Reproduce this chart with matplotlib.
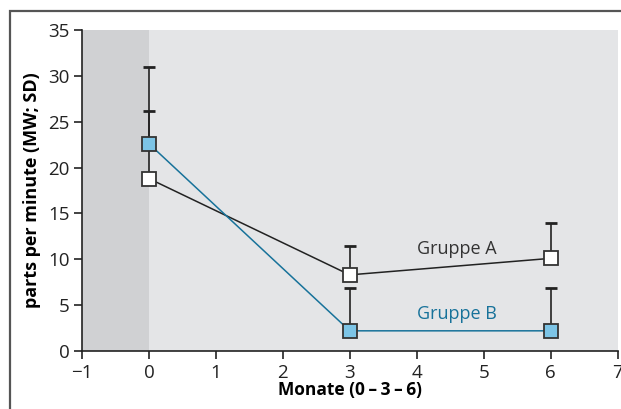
import matplotlib
matplotlib.use('Agg')
import matplotlib.pyplot as plt
from matplotlib.patches import Rectangle

plt.rcParams['font.family'] = ['Open Sans', 'DejaVu Sans']

# months
months = [0, 3, 6]

# Gruppe A: mean and upper SD end
mean_a = [18.8, 8.3, 10.1]
sd_a = [7.4, 3.2, 3.9]

# Gruppe B
mean_b = [22.6, 2.2, 2.2]
sd_b = [8.4, 4.7, 4.7]

xticks = [-1, 0, 1, 2, 3, 4, 5, 6, 7]
yticks = [0, 5, 10, 15, 20, 25, 30, 35]

fig = plt.figure(figsize=(6.21, 4.09), dpi=100)
ax = fig.add_axes([82/621, 1-351/409, (617.5-82)/621, (351-30)/409])

# frame round the figure (cut off at right and bottom)
fig.patches.append(Rectangle((10/621, -0.1), 1.2, 1-11/409+0.1, transform=fig.transFigure,
                             fill=False, edgecolor='#555555', linewidth=1.6))

ax.set_facecolor('#e4e5e7')
ax.axvspan(-1, 0, color='#d0d1d3', zorder=0, linewidth=0)

# error bars (upper only)
ax.errorbar(months, mean_a, yerr=[[0]*3, sd_a], fmt='none', ecolor='#222222',
            elinewidth=1.2, capsize=4, capthick=2, zorder=2)
ax.errorbar(months, mean_b, yerr=[[0]*3, sd_b], fmt='none', ecolor='#222222',
            elinewidth=1.2, capsize=4, capthick=2, zorder=2)

ax.plot(months, mean_a, color='#222222', linewidth=1.1, marker='s', markersize=10,
        markerfacecolor='white', markeredgecolor='#333333', markeredgewidth=1.3, zorder=3)
ax.plot(months, mean_b, color='#17729a', linewidth=1.1, marker='s', markersize=10,
        markerfacecolor='#7cc4e6', markeredgecolor='#333333', markeredgewidth=1.3, zorder=3)

ax.text(4.6, 11.1, 'Gruppe A', color='#333333', fontsize=13, ha='center', va='center')
ax.text(4.6, 4.0, 'Gruppe B', color='#17729a', fontsize=13, ha='center', va='center')

ax.set_xlim(-1, 7)
ax.set_ylim(0, 35)
ax.set_xticks(xticks)
ax.set_yticks(yticks)
ax.spines['top'].set_visible(False)
ax.spines['right'].set_visible(False)
for s in ['left', 'bottom']:
    ax.spines[s].set_linewidth(1.2)
    ax.spines[s].set_color('#222222')
ax.tick_params(direction='out', length=6, width=1.2, labelsize=13.5, colors='#222222', pad=3)

ax.set_xlabel('Monate (0\u2009\u2013\u20093\u2009\u2013\u20096)', fontsize=12.5, fontweight='bold',
              labelpad=0)
ax.set_ylabel('parts per minute (MW; SD)', fontsize=13, fontweight='bold', labelpad=5)

fig.savefig('out.png', dpi=100)
